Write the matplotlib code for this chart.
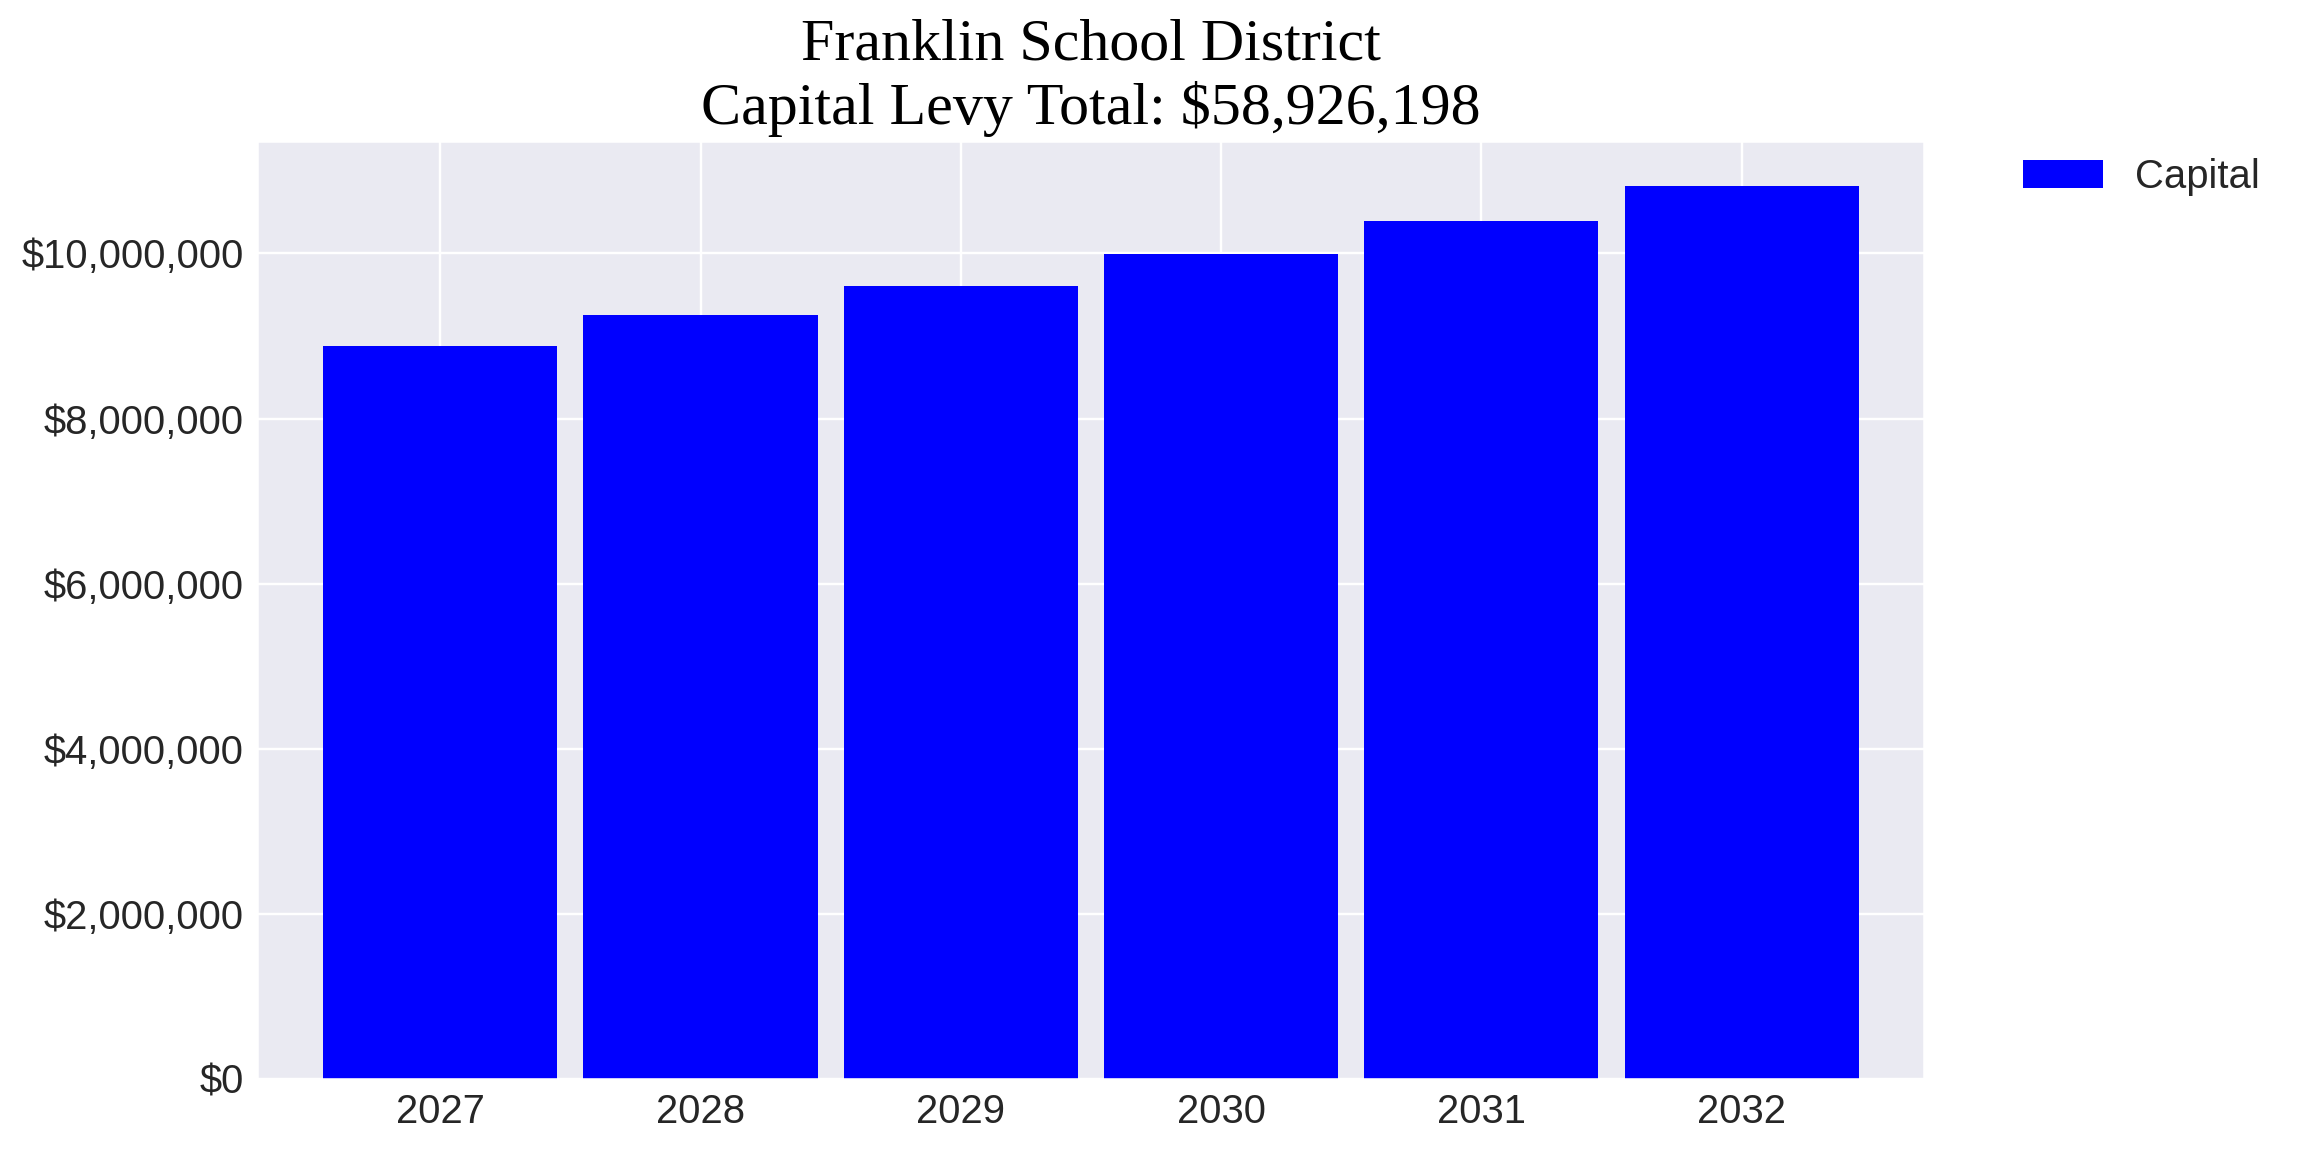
import matplotlib
matplotlib.use("Agg")
import matplotlib.pyplot as plt
import seaborn as sns
from matplotlib.ticker import FuncFormatter

years = ["2027", "2028", "2029", "2030", "2031", "2032"]
capital = [8876000, 9249000, 9604000, 9996000, 10388000, 10813198]
title_lines = ["Franklin School District", "Capital Levy Total: $58,926,198"]
series_name = "Capital"

sns.set_style("darkgrid")
plt.rcParams['font.family'] = ['Liberation Sans', 'DejaVu Sans']

fig = plt.figure(figsize=(16, 8), dpi=144)
ax = fig.add_axes([0.112, 0.0634, 0.835 - 0.112, 0.877 - 0.0634])

x = list(range(len(years)))
ax.bar(x, capital, width=0.9, color="blue", label=series_name, linewidth=0, zorder=2)
ax.set_xticks(x)
ax.set_xticklabels(years)
ax.set_xlim(-0.7, 5.7)
ax.set_ylim(0, max(capital) * 1.05)
ax.yaxis.set_major_formatter(FuncFormatter(lambda v, p: "${:,.0f}".format(v)))
ax.tick_params(axis="both", labelsize=20, colors="#262626")
ax.grid(True, color="white", linewidth=1.2)

ax.set_title("\n".join(title_lines), fontsize=30, family=["Liberation Serif", "DejaVu Serif"],
             color="black", pad=9)

leg = ax.legend(loc="upper left", bbox_to_anchor=(1.05, 1), borderaxespad=0, frameon=False, fontsize=20)

fig.savefig("out.png", dpi=144)
